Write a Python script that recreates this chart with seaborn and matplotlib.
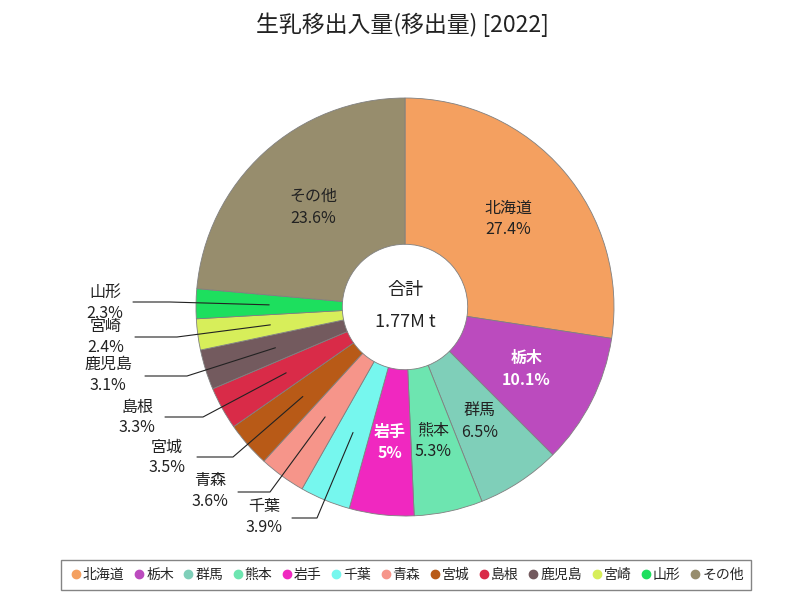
import matplotlib.pyplot as plt
import numpy as np
import seaborn as sb
from matplotlib.lines import Line2D

# data
prefs = ["北海道", "栃木", "群馬", "熊本", "岩手", "千葉", "青森",
         "宮城", "島根", "鹿児島", "宮崎", "山形", "その他"]
shares = [27.4, 10.1, 6.5, 5.3, 5.0, 3.9, 3.6, 3.5, 3.3, 3.1, 2.4, 2.3, 23.6]
pct_labels = ["27.4%", "10.1%", "6.5%", "5.3%", "5%", "3.9%", "3.6%",
              "3.5%", "3.3%", "3.1%", "2.4%", "2.3%", "23.6%"]
colors = ["#F4A060", "#BB4BBE", "#7FCFB9", "#6DE5B0", "#F028C0", "#76F7EE",
          "#F6958A", "#B85A17", "#D92B48", "#735A5E", "#D7EE5A", "#1DDF5E",
          "#978D6D"]
total_label = "1.77M t"
title = "生乳移出入量(移出量) [2022]"

# outside label layout in pixels: (knee x, knee/line y, line end x, text x, name y)
outside = {
    "山形": (170, 302, 133, 105, 292),
    "宮崎": (177, 337, 135, 106, 326),
    "鹿児島": (187, 376, 145, 108, 364),
    "島根": (203, 417, 165, 137, 407),
    "宮城": (233, 457, 197, 167, 447),
    "青森": (270, 492, 238, 210, 481),
    "千葉": (317, 518, 292, 264, 507),
}
white_text = {"栃木", "岩手"}

sb.set_theme(style="white")
plt.rcParams["font.family"] = ["Noto Sans CJK JP", "DejaVu Sans"]

CX, CY, R = 405, 307, 209


def px(x, y):
    return (x - CX) / R, (CY - y) / R


fig = plt.figure(figsize=(8, 6), dpi=100)
ax = fig.add_axes([0, 0, 1, 1])

wedges, _ = ax.pie(shares, colors=colors, startangle=90, counterclock=False,
                   radius=1.0,
                   wedgeprops=dict(width=0.70, edgecolor="#808080", linewidth=0.6))

# pie() resets the limits, so set them afterwards
ax.set_xlim(-CX / R, (800 - CX) / R)
ax.set_ylim(-(600 - CY) / R, CY / R)
ax.set_aspect("equal")
ax.axis("off")

for w, name, pct in zip(wedges, prefs, pct_labels):
    mid = np.deg2rad((w.theta1 + w.theta2) / 2)
    mx, my = 0.65 * np.cos(mid), 0.65 * np.sin(mid)
    if name in outside:
        kx, ky, ex, tx, ty = outside[name]
        k = px(kx, ky)
        e = px(ex, ky)
        ax.plot([mx, k[0], e[0]], [my, k[1], e[1]], color="#222222", lw=0.8)
        t = px(tx, ty)
        ax.text(t[0], t[1], name, ha="center", va="center", fontsize=11.5,
                color="#222222")
        t2 = px(tx, ty + 21)
        ax.text(t2[0], t2[1], pct, ha="center", va="center", fontsize=11.5,
                color="#222222")
    else:
        c = "white" if name in white_text else "#222222"
        fw = "bold" if name in white_text else "normal"
        ax.text(mx, my + 0.05, name, ha="center", va="center", fontsize=11.5,
                color=c, fontweight=fw)
        ax.text(mx, my - 0.055, pct, ha="center", va="center", fontsize=11.5,
                color=c, fontweight=fw)

ax.text(0, px(0, 290)[1], "合計", ha="center", va="center", fontsize=13,
        color="#222222")
ax.text(0, px(0, 322)[1], total_label, ha="center", va="center", fontsize=13,
        color="#222222")

fig.text(0.503, 1 - 25 / 600, title, ha="center", va="center", fontsize=16.5,
         color="#222222")

handles = [Line2D([0], [0], marker="o", linestyle="none", markersize=6,
                  markerfacecolor=c, markeredgecolor=c) for c in colors]
leg = fig.legend(handles, prefs, loc="center", bbox_to_anchor=(0.508, 1 - 575 / 600),
                 ncol=len(prefs), fontsize=10, frameon=True, fancybox=False,
                 handletextpad=0.0, columnspacing=0.55, handlelength=1.0,
                 borderpad=0.55)
leg.get_frame().set_edgecolor("#666666")
leg.get_frame().set_linewidth(1.0)

fig.savefig("out.png", dpi=100)
